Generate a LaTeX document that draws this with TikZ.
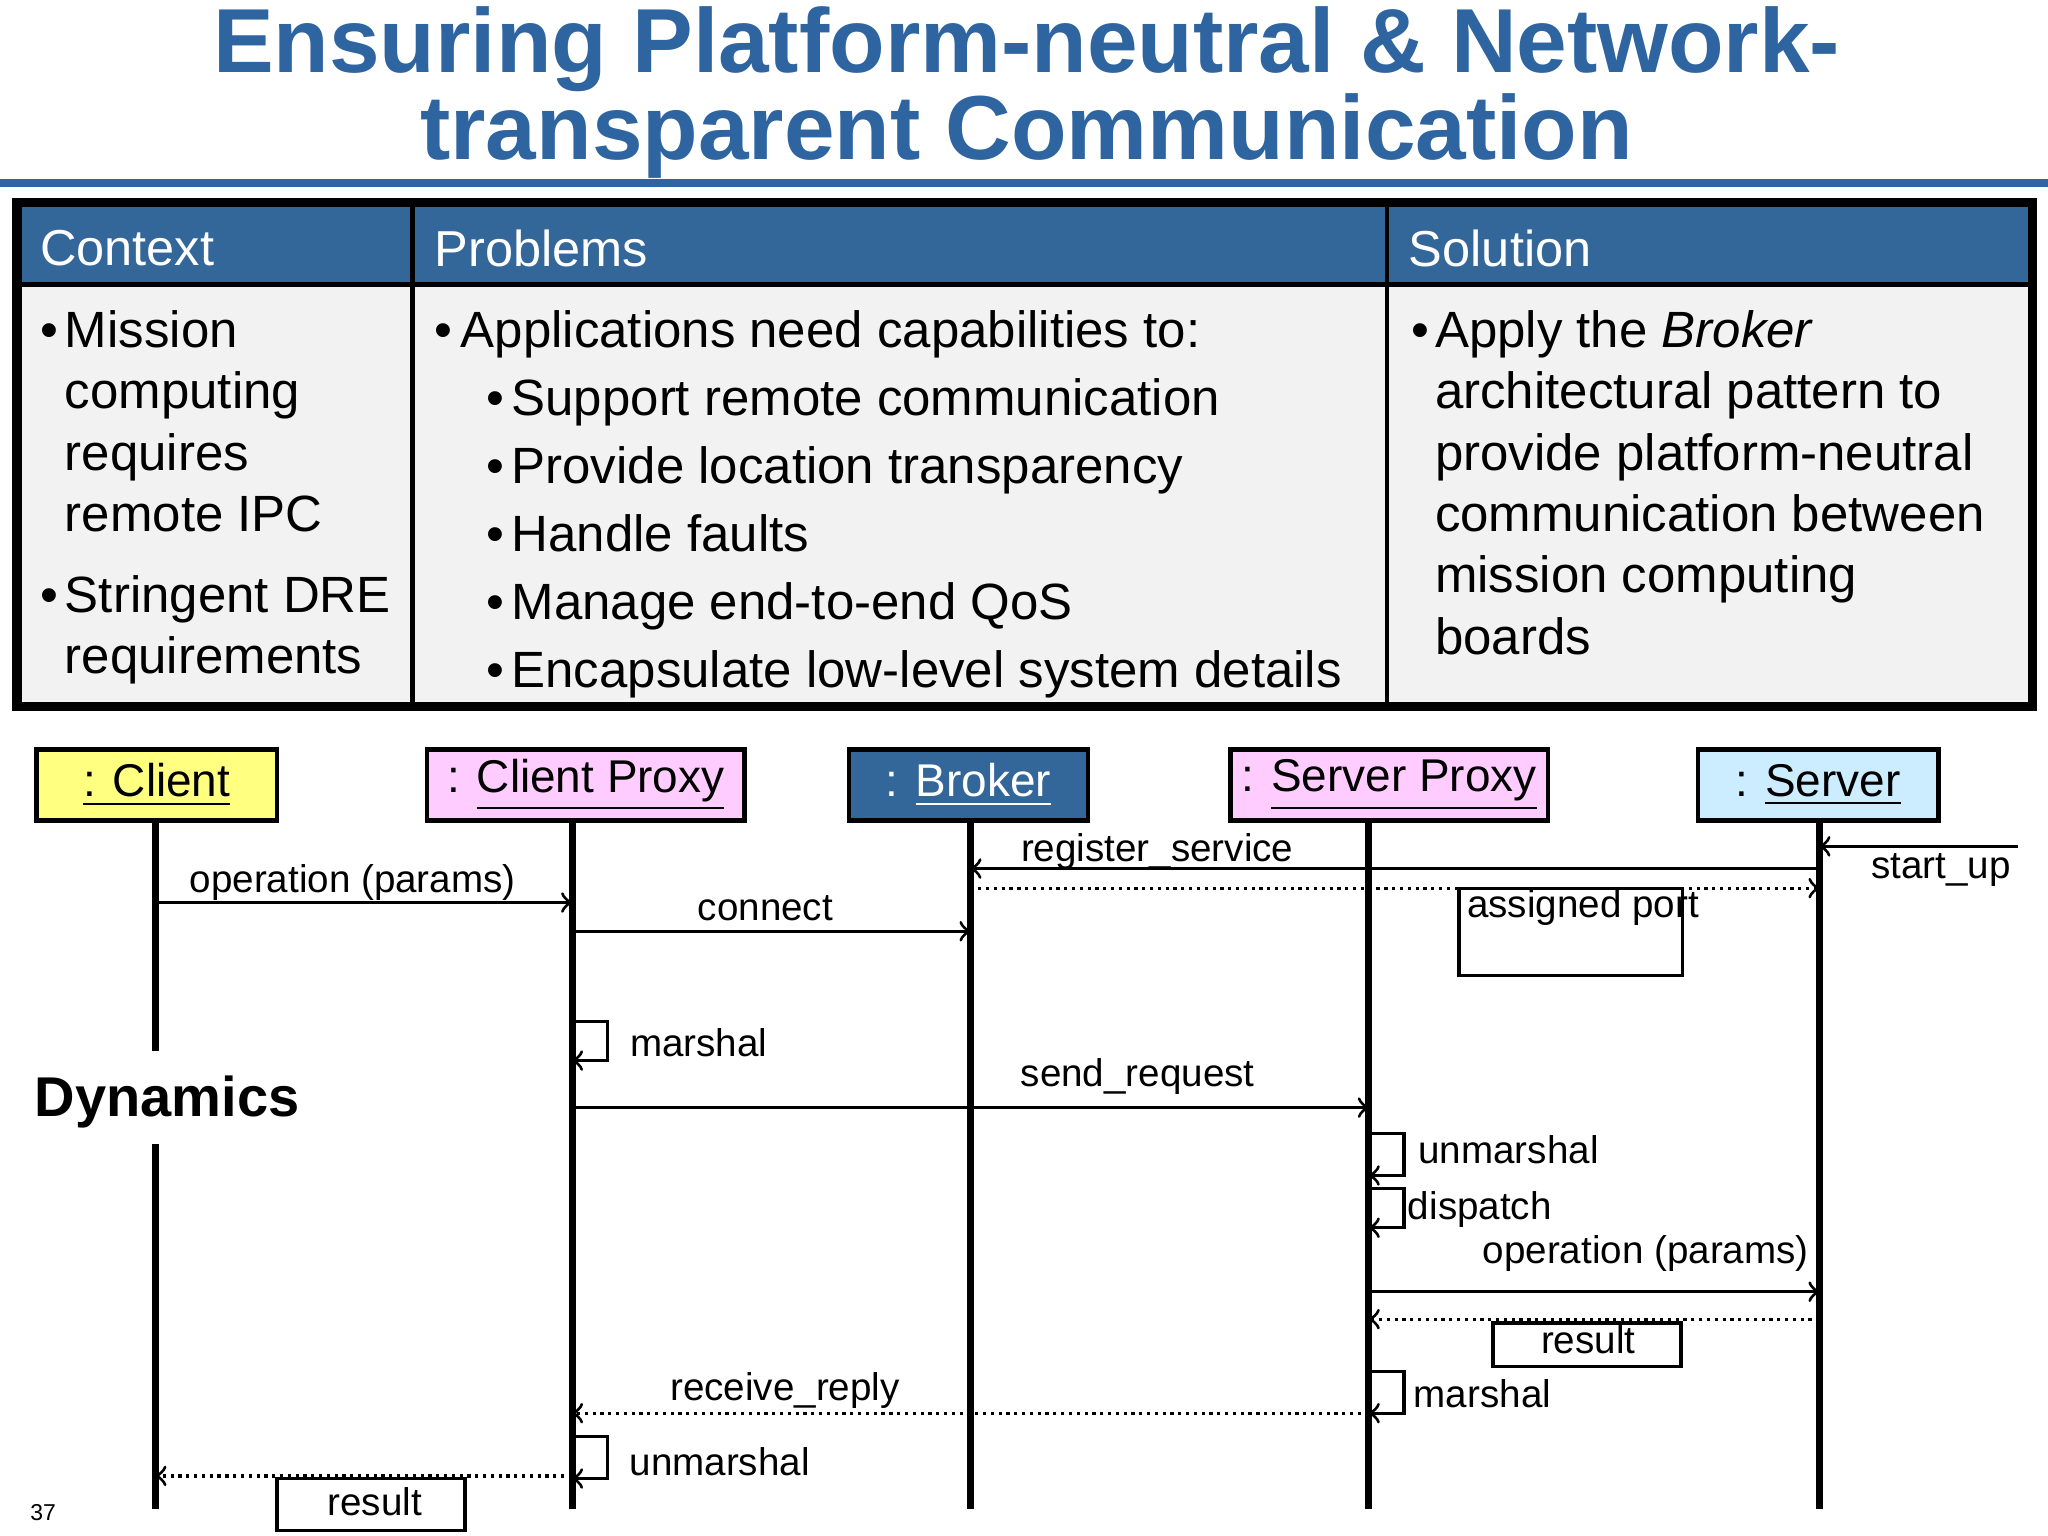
\documentclass[tikz,border=0pt]{standalone}
\usepackage{fontspec}
\setmainfont{Liberation Sans}
\usetikzlibrary{positioning}
\definecolor{title-blue}{RGB}{46,100,160}
\definecolor{head-blue}{RGB}{51,102,153}
\definecolor{body-gray}{gray}{0.95}
\definecolor{obj-yellow}{RGB}{255,255,128}
\definecolor{obj-pink}{RGB}{255,204,255}
\definecolor{obj-cyan}{RGB}{204,236,255}
\tikzset{
  obj/.style={draw, line width=1pt, minimum height=0.54cm, inner sep=0pt, font=\fontsize{10}{12}\selectfont},
  life/.style={line width=1.5pt},
  msg/.style={->, line width=0.7pt},
  reply/.style={->, line width=0.7pt, densely dotted},
  lbl/.style={font=\fontsize{8.4}{10}\selectfont, inner sep=1pt},
  body/.style={font=\fontsize{11.1}{13.4}\selectfont, anchor=base west, inner sep=0pt, yshift=-0.13cm},
  head/.style={font=\fontsize{11}{13}\selectfont, text=white, anchor=west, inner sep=0pt},
}
\begin{document}
\begin{tikzpicture}[x={(0.01cm,0)}, y={(0,-0.01cm)}]
    \useasboundingbox [fill=white] (0,0) rectangle (1568,1176);
    % Title
    \node [font=\fontsize{19.8}{20}\selectfont\bfseries, text=title-blue] (t1) at (786,38) {Ensuring Platform-neutral \& Network-};
    \node [font=\fontsize{19.8}{20}\selectfont\bfseries, text=title-blue] (t2) at (786,104) {transparent Communication};
    % Title rule
    \draw [title-blue, line width=1.6pt] (0,140) -- (1568,140);
    % Table body and header
    \fill [body-gray] (13,155) rectangle (1556,541);
    \fill [head-blue] (13,155) rectangle (1556,218);
    \draw [line width=1pt] (13,218) -- (1556,218);
    \draw [line width=1pt] (316,155) -- (316,541);
    \draw [line width=1pt] (1062,155) -- (1062,541);
    \draw [line width=2pt] (13,155) rectangle (1556,541);
    % Header labels
    \node [head] (hc) at (30,190) {Context};
    \node [head] (hp) at (332,190) {Problems};
    \node [head] (hs) at (1078,190) {Solution};
    % Context column
    \foreach \y/\t in {253/Mission, 300/computing, 347/requires, 394/remote IPC, 456/Stringent DRE, 503/requirements}
        \node [body] at (49,\y) {\t};
    \node [body] at (30,253) {•};
    \node [body] at (30,456) {•};
    % Problems column
    \node [body] at (332,253) {•};
    \node [body] at (352,253) {Applications need capabilities to:};
    \foreach \y/\t in {305/Support remote communication, 357/Provide location transparency, 409/Handle faults, 461/Manage end-to-end QoS, 513/Encapsulate low-level system details}{
        \node [body] at (372,\y) {•};
        \node [body] at (391,\y) {\t};
    }
    % Solution column
    \node [body] at (1080,253) {•};
    \node [body] at (1098,253) {Apply the \textit{Broker}};
    \foreach \y/\t in {300/architectural pattern to, 347/provide platform-neutral, 394/communication between, 441/mission computing, 488/boards}
        \node [body] at (1098,\y) {\t};
    % Objects
    \node [obj, fill=obj-yellow, minimum width=1.84cm] (client) at (120,601) {\underline{: Client}};
    \node [obj, fill=obj-pink, minimum width=2.43cm] (cproxy) at (448.5,601) {: \underline{Client Proxy}};
    \node [obj, fill=head-blue, text=white, minimum width=1.83cm] (broker) at (741.5,601) {: \underline{Broker}};
    \node [obj, fill=obj-pink, minimum width=2.43cm] (sproxy) at (1063.5,601) {: \underline{Server Proxy}};
    \node [obj, fill=obj-cyan, minimum width=1.84cm] (server) at (1392,601) {: \underline{Server}};
    % Lifelines
    \coordinate (cl) at (119,1155);
    \coordinate (pl) at (438,1155);
    \coordinate (bl) at (743,1155);
    \coordinate (sl) at (1048,1155);
    \coordinate (vl) at (1393,1155);
    \draw [life] (119,628) -- (119,805);
    \draw [life] (119,876) -- (cl);
    \draw [life] (438,628) -- (pl);
    \draw [life] (743,628) -- (bl);
    \draw [life] (1048,628) -- (sl);
    \draw [life] (1393,628) -- (vl);
    % Dynamics label
    \node [font=\fontsize{12.2}{14}\selectfont\bfseries, anchor=west, inner sep=0pt] (dyn) at (26,844) {Dynamics};
    % start_up
    \coordinate (su) at (1545,648);
    \draw [msg] (su) -- (vl |- su);
    \node [lbl] at (1486,666) {start\_up};
    % register_service
    \draw [msg] (vl |- 0,665) -- (bl |- 0,665);
    \node [lbl] at (886,652) {register\_service};
    % assigned port
    \draw [reply] (bl |- 0,680) -- (vl |- 0,680);
    \draw [line width=0.7pt] (1117,680) rectangle (1288,747);
    \node [lbl] at (1212,695) {assigned port};
    % operation (params)
    \draw [msg] (cl |- 0,691) -- (pl |- 0,691);
    \node [lbl] at (270,676) {operation (params)};
    % connect
    \draw [msg] (pl |- 0,713) -- (bl |- 0,713);
    \node [lbl] at (586,695) {connect};
    % marshal
    \draw [msg] (pl |- 0,782) -- (465,782) -- (465,812) -- (pl |- 0,812);
    \node [lbl] at (535,798) {marshal};
    % send_request
    \draw [msg] (pl |- 0,848) -- (sl |- 0,848);
    \node [lbl] at (871,824) {send\_request};
    % unmarshal and dispatch
    \draw [msg] (sl |- 0,868) -- (1075,868) -- (1075,900) -- (sl |- 0,900);
    \node [lbl] at (1155,880) {unmarshal};
    \draw [msg] (sl |- 0,910) -- (1075,910) -- (1075,940) -- (sl |- 0,940);
    \node [lbl] at (1133,926) {dispatch};
    % operation (params) to server
    \draw [msg] (sl |- 0,989) -- (vl |- 0,989);
    \node [lbl] at (1260,960) {operation (params)};
    % result from server
    \draw [reply] (vl |- 0,1010) -- (sl |- 0,1010);
    \draw [line width=0.7pt] (1143,1013) rectangle (1287,1046);
    \node [lbl] at (1216,1026) {result};
    % marshal reply
    \draw [msg] (sl |- 0,1050) -- (1075,1050) -- (1075,1082) -- (sl |- 0,1082);
    \node [lbl] at (1135,1067) {marshal};
    % receive_reply
    \draw [reply] (sl |- 0,1082) -- (pl |- 0,1082);
    \node [lbl] at (601,1065) {receive\_reply};
    % unmarshal reply
    \draw [msg] (pl |- 0,1100) -- (465,1100) -- (465,1132) -- (pl |- 0,1132);
    \node [lbl] at (551,1119) {unmarshal};
    % result to client
    \draw [reply] (pl |- 0,1130) -- (cl |- 0,1130);
    \draw [line width=0.7pt] (212,1132) rectangle (356,1172);
    \node [lbl] at (287,1150) {result};
    % Page number
    \node [font=\fontsize{5}{6}\selectfont] at (33,1158) {37};
\end{tikzpicture}
\end{document}
